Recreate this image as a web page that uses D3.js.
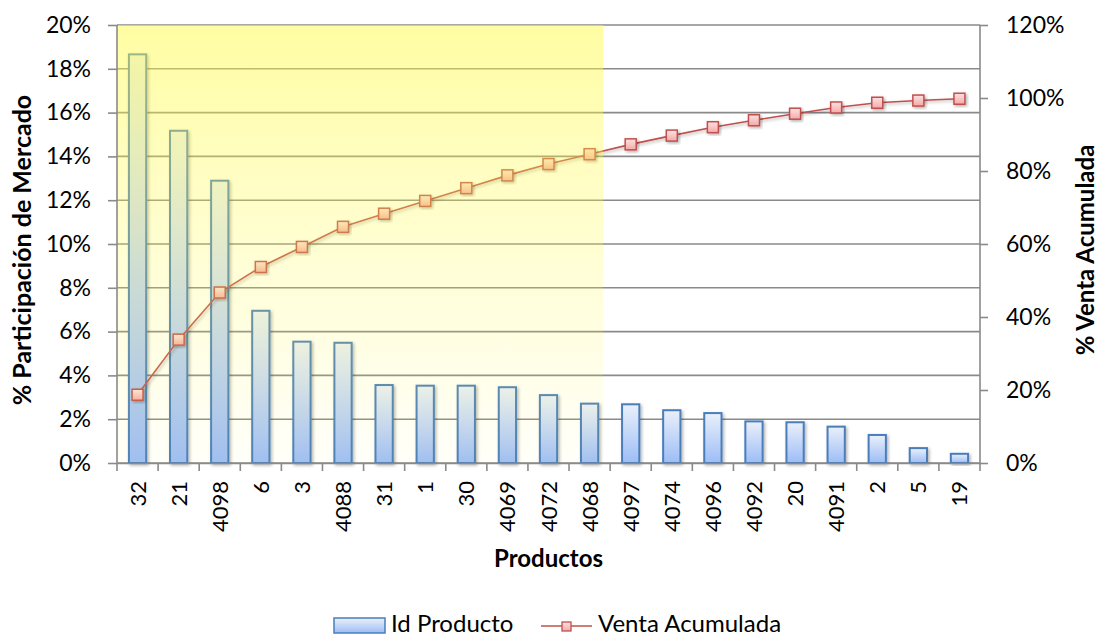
<!DOCTYPE html>
<html>
<head>
<meta charset="utf-8">
<script src="https://cdn.jsdelivr.net/npm/d3@7"></script>
<style>
  html, body { margin: 0; padding: 0; background: #ffffff; }
  svg { display: block; font-family: Lato, "Open Sans", "DejaVu Sans", sans-serif; }
</style>
</head>
<body>
<svg id="chart" width="1100" height="637"></svg>
<script>
// Product ids, ordered by market share
const products = ["32", "21", "4098", "6", "3", "4088", "31", "1", "30", "4069", "4072",
                  "4068", "4097", "4074", "4096", "4092", "20", "4091", "2", "5", "19"];
// Market share of each product (%)
const share = [18.66, 15.17, 12.89, 6.95, 5.54, 5.49, 3.56, 3.53, 3.53, 3.46, 3.10,
               2.71, 2.68, 2.41, 2.28, 1.90, 1.86, 1.66, 1.28, 0.68, 0.42];
// Accumulated sales (%)
const accumulated = [18.7, 33.8, 46.7, 53.7, 59.2, 64.7, 68.3, 71.8, 75.3, 78.8, 81.9,
                     84.6, 87.3, 89.7, 92.0, 93.9, 95.7, 97.4, 98.7, 99.3, 99.8];
const leftTicks = [0, 2, 4, 6, 8, 10, 12, 14, 16, 18, 20];
const rightTicks = [0, 20, 40, 60, 80, 100, 120];
// Last product inside the highlighted (top ~85%) group
const highlightEnd = "4068";

const svg = d3.select("#chart");
const margin = { left: 117, right: 120, top: 25, bottom: 174 };
const W = 1100, H = 637;
const x0 = margin.left, x1 = W - margin.right, y0 = H - margin.bottom, y1 = margin.top;

const x = d3.scaleBand().domain(products).range([x0, x1]).paddingInner(0).paddingOuter(0);
const yL = d3.scaleLinear().domain([0, 20]).range([y0, y1]);
const yR = d3.scaleLinear().domain([0, 120]).range([y0, y1]);

const defs = svg.append("defs");
const barGrad = defs.append("linearGradient").attr("id", "barGrad")
  .attr("x1", 0).attr("y1", 0).attr("x2", 0).attr("y2", 1);
barGrad.append("stop").attr("offset", "0%").attr("stop-color", "#eaf0fa");
barGrad.append("stop").attr("offset", "100%").attr("stop-color", "#9dbdf6");

const markGrad = defs.append("linearGradient").attr("id", "markGrad")
  .attr("x1", 0).attr("y1", 0).attr("x2", 0).attr("y2", 1);
markGrad.append("stop").attr("offset", "0%").attr("stop-color", "#fde2e2");
markGrad.append("stop").attr("offset", "100%").attr("stop-color", "#f4a9a8");

const hlGrad = defs.append("linearGradient").attr("id", "hlGrad")
  .attr("x1", 0).attr("y1", 0).attr("x2", 0).attr("y2", 1);
hlGrad.append("stop").attr("offset", "0%").attr("stop-color", "#fffb45").attr("stop-opacity", 0.5);
hlGrad.append("stop").attr("offset", "55%").attr("stop-color", "#fffb45").attr("stop-opacity", 0.22);
hlGrad.append("stop").attr("offset", "100%").attr("stop-color", "#fffb45").attr("stop-opacity", 0.03);

const shadow = defs.append("filter").attr("id", "shadow")
  .attr("x", "-30%").attr("y", "-30%").attr("width", "160%").attr("height", "160%");
shadow.append("feDropShadow").attr("dx", 1.5).attr("dy", 1.5).attr("stdDeviation", 1.5)
  .attr("flood-color", "#000").attr("flood-opacity", 0.3);

// Horizontal gridlines (left axis)
svg.append("g").selectAll("line").data(leftTicks).join("line")
  .attr("x1", x0).attr("x2", x1)
  .attr("y1", d => yL(d)).attr("y2", d => yL(d))
  .attr("stroke", "#8a8a8a").attr("stroke-width", 1.6);

// Bars
const bw = x.bandwidth() * 0.42;
svg.append("g").selectAll("rect").data(products).join("rect")
  .attr("x", (d, i) => x(d) + (x.bandwidth() - bw) / 2)
  .attr("y", (d, i) => yL(share[i]))
  .attr("width", bw)
  .attr("height", (d, i) => y0 - yL(share[i]))
  .attr("fill", "url(#barGrad)")
  .attr("stroke", "#4a7ebb").attr("stroke-width", 2)
  .attr("filter", "url(#shadow)");

// Accumulated sales line
const line = d3.line().x((d, i) => x(products[i]) + x.bandwidth() / 2).y(d => yR(d));
svg.append("path").datum(accumulated).attr("d", line)
  .attr("fill", "none").attr("stroke", "#c0504d").attr("stroke-width", 1.6)
  .attr("filter", "url(#shadow)");
const ms = 11;
svg.append("g").selectAll("rect").data(accumulated).join("rect")
  .attr("x", (d, i) => x(products[i]) + x.bandwidth() / 2 - ms / 2)
  .attr("y", d => yR(d) - ms / 2)
  .attr("width", ms).attr("height", ms)
  .attr("fill", "url(#markGrad)").attr("stroke", "#c0504d").attr("stroke-width", 1.5)
  .attr("filter", "url(#shadow)");

// Highlight over the leading products
svg.append("rect")
  .attr("x", x0).attr("y", y1)
  .attr("width", x(highlightEnd) + x.bandwidth() * 0.83 - x0)
  .attr("height", y0 - y1)
  .attr("fill", "url(#hlGrad)");

// Axes
const axisColor = "#8a8a8a";
const gL = svg.append("g").attr("transform", `translate(${x0},0)`)
  .call(d3.axisLeft(yL).tickValues(leftTicks).tickFormat(d => d + "%").tickSize(9).tickPadding(17));
const gR = svg.append("g").attr("transform", `translate(${x1},0)`)
  .call(d3.axisRight(yR).tickValues(rightTicks).tickFormat(d => d + "%").tickSize(8).tickPadding(18));
const gB = svg.append("g").attr("transform", `translate(0,${y0})`)
  .call(d3.axisBottom(x).tickSize(0).tickPadding(0).tickFormat(""));
[gL, gR, gB].forEach(g => {
  g.select(".domain").attr("stroke", axisColor).attr("stroke-width", 1.6);
  g.selectAll(".tick line").attr("stroke", axisColor).attr("stroke-width", 1.6);
  g.selectAll("text").attr("font-size", 23).attr("fill", "#000")
    .attr("font-family", "Lato, 'Open Sans', sans-serif");
});
gL.select(".domain").attr("d", `M0,${y0}V${y1}`);
gR.select(".domain").attr("d", `M0,${y0}V${y1}`);

// Category separators on the bottom axis
const bounds = products.map(d => x(d)).concat([x1]);
gB.append("g").selectAll("line").data(bounds).join("line")
  .attr("x1", d => d).attr("x2", d => d).attr("y1", 0).attr("y2", 8)
  .attr("stroke", axisColor).attr("stroke-width", 1.6);

// Product labels, rotated
svg.append("g").selectAll("text").data(products).join("text")
  .attr("transform", d => `translate(${x(d) + x.bandwidth() / 2 + 8},${y0 + 18}) rotate(-90)`)
  .attr("text-anchor", "end")
  .attr("font-size", 22).attr("fill", "#000")
  .text(d => d);

// Axis titles
svg.append("text").attr("transform", `translate(31,${(y0 + y1) / 2 + 6}) rotate(-90)`)
  .attr("text-anchor", "middle").attr("font-size", 25).attr("font-weight", "bold")
  .text("% Participación de Mercado");
svg.append("text").attr("transform", `translate(1094,${(y0 + y1) / 2 + 6}) rotate(-90)`)
  .attr("text-anchor", "middle").attr("font-size", 24).attr("font-weight", "bold")
  .text("% Venta Acumulada");
svg.append("text").attr("x", (x0 + x1) / 2).attr("y", 567)
  .attr("text-anchor", "middle").attr("font-size", 24).attr("font-weight", "bold")
  .text("Productos");

// Legend
const lg = svg.append("g");
lg.append("rect").attr("x", 334).attr("y", 618).attr("width", 51).attr("height", 15)
  .attr("fill", "url(#barGrad)").attr("stroke", "#4a7ebb").attr("stroke-width", 1.5);
lg.append("text").attr("x", 391).attr("y", 632).attr("font-size", 24).text("Id Producto");
lg.append("line").attr("x1", 541).attr("x2", 592).attr("y1", 626).attr("y2", 626)
  .attr("stroke", "#c0504d").attr("stroke-width", 1.6);
lg.append("rect").attr("x", 562).attr("y", 622).attr("width", 9).attr("height", 9)
  .attr("fill", "url(#markGrad)").attr("stroke", "#c0504d").attr("stroke-width", 1.3);
lg.append("text").attr("x", 598).attr("y", 632).attr("font-size", 24).text("Venta Acumulada");
</script>
</body>
</html>
